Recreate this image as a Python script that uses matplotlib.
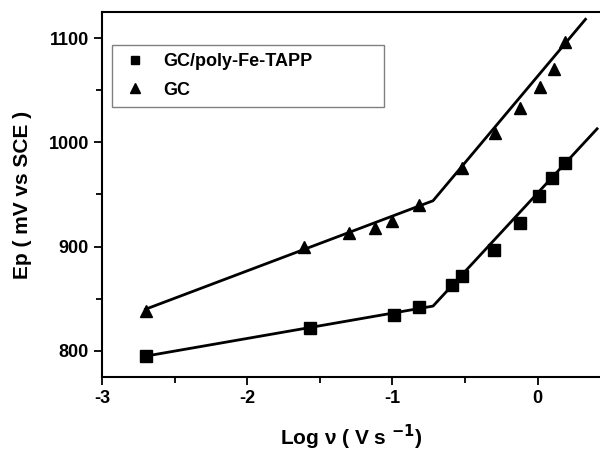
import matplotlib.pyplot as plt

plt.rcParams['font.family'] = ['Liberation Sans', 'DejaVu Sans']
plt.rcParams['font.weight'] = 'bold'
plt.rcParams['axes.unicode_minus'] = False

# measured points
log_v_gc = [-2.70, -1.61, -1.30, -1.12, -1.00, -0.82, -0.52, -0.29, -0.12, 0.02, 0.11, 0.19]
ep_gc = [838, 900, 913, 918, 925, 940, 975, 1009, 1033, 1053, 1070, 1096]

log_v_poly = [-2.70, -1.57, -0.99, -0.82, -0.59, -0.52, -0.30, -0.12, 0.01, 0.10, 0.19]
ep_poly = [795, 822, 834, 842, 863, 872, 897, 923, 949, 966, 980]

# fitted line segments
fit_x_gc = [-2.70, -0.72, 0.33]
fit_y_gc = [840, 944, 1118]
fit_x_poly = [-2.70, -0.72, 0.41]
fit_y_poly = [795, 843, 1013]

fig = plt.figure(figsize=(6, 4.54), dpi=100)
ax = fig.add_axes([0.17, 0.1696, 0.83, 0.804])

ax.plot(fit_x_poly, fit_y_poly, color='black', lw=2)
ax.plot(fit_x_gc, fit_y_gc, color='black', lw=2)
ax.plot(log_v_poly, ep_poly, 's', color='black', ms=8, label='GC/poly-Fe-TAPP')
ax.plot(log_v_gc, ep_gc, '^', color='black', ms=9, label='GC')

ax.set_xlim(-3, 0.43)
ax.set_ylim(775, 1125)
ax.set_xticks([-3, -2, -1, 0])
ax.set_xticks([-2.5, -1.5, -0.5], minor=True)
ax.set_yticks([800, 900, 1000, 1100])
ax.set_yticks([850, 950, 1050], minor=True)
ax.tick_params(which='major', length=6, width=1.3, labelsize=13)
ax.tick_params(which='minor', length=4, width=1.3)
ax.spines['right'].set_visible(False)
for s in ['left', 'bottom', 'top']:
    ax.spines[s].set_linewidth(1.5)

ax.set_xlabel('Log \u03bd ( V s $^{\\mathbf{-1}}$)', fontsize=15, fontweight='bold', labelpad=11)
ax.set_ylabel('Ep ( mV vs SCE )', fontsize=15, fontweight='bold', labelpad=12)

leg = ax.legend(loc='upper left', bbox_to_anchor=(0.02, 0.745, 0.546, 0.165), mode='expand',
                borderaxespad=0, fontsize=13, markerscale=0.75, fancybox=False, framealpha=1,
                handletextpad=0.8, borderpad=0.45, labelspacing=0.65, handlelength=1.6)
leg.get_frame().set_edgecolor('gray')
leg.get_frame().set_linewidth(1)

fig.savefig('out.png', dpi=100)
